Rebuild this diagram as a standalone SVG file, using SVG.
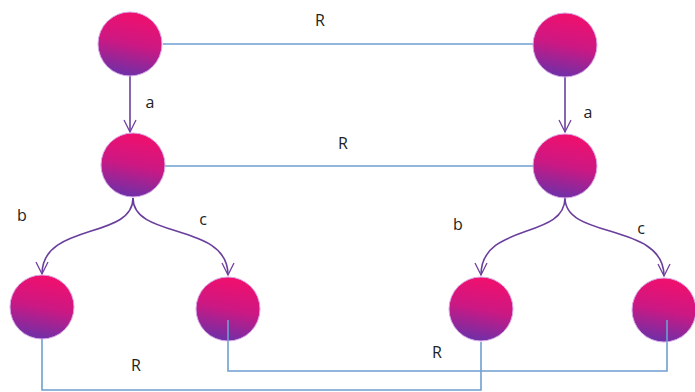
<svg xmlns="http://www.w3.org/2000/svg" width="695" height="392" viewBox="0 0 695 392">
<defs>
<linearGradient id="g" x1="0.6" y1="0" x2="0.4" y2="1">
<stop offset="0" stop-color="#f20f6c"/>
<stop offset="0.5" stop-color="#cc1883"/>
<stop offset="1" stop-color="#6c30a8"/>
</linearGradient>
<marker id="arr" viewBox="0 0 14 14" refX="13" refY="7" markerWidth="14" markerHeight="14" markerUnits="userSpaceOnUse" orient="auto">
<path d="M1,1 L13,7 L1,13" fill="none" stroke="#7040a0" stroke-width="1.3"/>
</marker>
<style>
.n{fill:url(#g);stroke:#d8a8e8;stroke-width:1}
.r{fill:none;stroke:#6f9fd0;stroke-width:1.6}
.e{fill:none;stroke:#6a3f9c;stroke-width:1.6;marker-end:url(#arr)}
.t{font-family:"Open Sans","Liberation Sans",sans-serif;font-size:16px;fill:#222;text-anchor:middle}
</style>
</defs>
<rect width="695" height="392" fill="#fff"/>
<g id="connectors">
<path class="r" d="M163,44 H533"/>
<path class="r" d="M165,166 H533"/>
<path class="r" d="M42,339 V390 H481 V342"/>
<path class="r" d="M228,320 V371 H667 V320"/>
<path class="e" d="M130,76 V132"/>
<path class="e" d="M565,77 V132"/>
<path class="e" d="M133,198 C133,240 42,222 42,274"/>
<path class="e" d="M133,198 C133,240 228,222 228,275"/>
<path class="e" d="M565,198 C565,240 481,222 481,275"/>
<path class="e" d="M565,198 C565,240 664,222 664,276"/>
<text class="t" x="320" y="26">R</text>
<text class="t" x="343" y="149">R</text>
<text class="t" x="136" y="371">R</text>
<text class="t" x="437" y="358">R</text>
<text class="t" x="150" y="108">a</text>
<text class="t" x="588" y="118">a</text>
<text class="t" x="22" y="221">b</text>
<text class="t" x="203" y="225">c</text>
<text class="t" x="458" y="230">b</text>
<text class="t" x="641" y="234">c</text>
</g>
<g id="n1"><circle class="n" cx="130" cy="44" r="32"/></g>
<g id="n2"><circle class="n" cx="565" cy="45" r="32"/></g>
<g id="n3"><circle class="n" cx="133" cy="165" r="32"/></g>
<g id="n4"><circle class="n" cx="565" cy="166" r="32"/></g>
<g id="n5"><circle class="n" cx="42" cy="307" r="32"/></g>
<g id="n6"><circle class="n" cx="228" cy="309" r="32"/></g>
<g id="n7"><circle class="n" cx="481" cy="309" r="32"/></g>
<g id="n8"><circle class="n" cx="664" cy="310" r="32"/></g>
<path class="r" d="M228,320 V341"/>
<path class="r" d="M667,320 V342"/>
</svg>
